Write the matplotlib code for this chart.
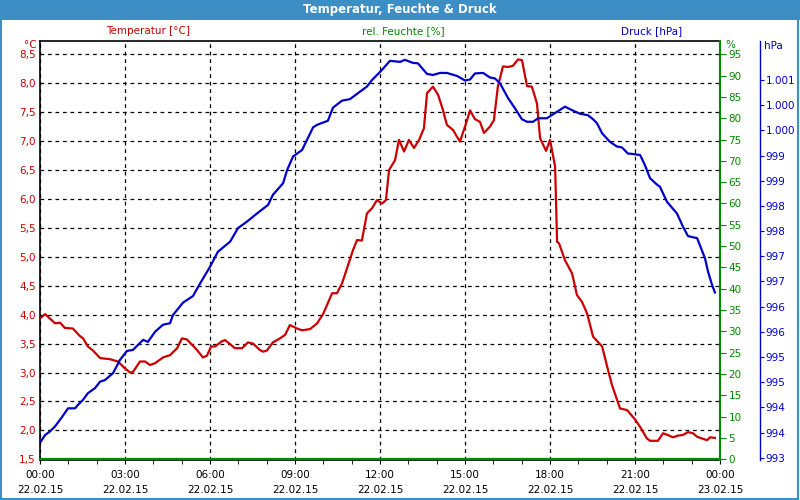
import matplotlib
matplotlib.use('Agg')
import matplotlib.pyplot as plt
from matplotlib.patches import Rectangle
import numpy as np

# time in hours since 22.02.15 00:00
temp_t = [0.04, 0.18, 0.53, 0.71, 0.88, 1.16, 1.41, 1.52, 1.69, 1.87, 2.12, 2.47, 2.75, 3.0, 3.18,
          3.28, 3.53, 3.71, 3.88, 4.06, 4.34, 4.59, 4.84, 5.01, 5.19, 5.54, 5.75, 5.89, 6.04, 6.18,
          6.42, 6.53, 6.71, 6.88, 7.13, 7.34, 7.52, 7.76, 7.87, 8.01, 8.22, 8.47, 8.65, 8.82, 9.07,
          9.25, 9.53, 9.78, 9.99, 10.16, 10.31, 10.48, 10.66, 11.05, 11.19, 11.36, 11.54, 11.72, 11.89,
          12.07, 12.21, 12.32, 12.53, 12.67, 12.85, 13.02, 13.2, 13.38, 13.55, 13.66, 13.87, 14.05,
          14.22, 14.36, 14.58, 14.82, 15.0, 15.18, 15.35, 15.53, 15.67, 15.88, 16.02, 16.16, 16.34,
          16.52, 16.69, 16.87, 17.01, 17.19, 17.36, 17.54, 17.65, 17.86, 18.0, 18.18, 18.25, 18.32,
          18.53, 18.78, 18.95, 19.13, 19.31, 19.52, 19.84, 20.05, 20.19, 20.47, 20.72, 21.0, 21.18,
          21.42, 21.53, 21.81, 21.99, 22.16, 22.34, 22.52, 22.69, 22.87, 23.05, 23.19, 23.54, 23.65, 23.82]
temp_c = [3.95, 4.01, 3.85, 3.86, 3.77, 3.76, 3.63, 3.59, 3.45, 3.38, 3.25, 3.23, 3.19, 3.07, 3.0,
          3.01, 3.19, 3.19, 3.13, 3.16, 3.26, 3.30, 3.42, 3.59, 3.57, 3.39, 3.26, 3.29, 3.45, 3.45,
          3.54, 3.56, 3.49, 3.42, 3.42, 3.52, 3.50, 3.39, 3.36, 3.38, 3.52, 3.59, 3.65, 3.82, 3.76,
          3.73, 3.75, 3.85, 4.01, 4.20, 4.37, 4.37, 4.54, 5.12, 5.29, 5.28, 5.75, 5.84, 5.98,
          5.92, 5.98, 6.50, 6.67, 7.02, 6.82, 7.02, 6.88, 7.02, 7.22, 7.83, 7.94, 7.80,
          7.54, 7.28, 7.19, 6.99, 7.25, 7.53, 7.38, 7.33, 7.14, 7.25, 7.36, 7.94, 8.29,
          8.28, 8.30, 8.41, 8.40, 7.95, 7.94, 7.65, 7.05, 6.83, 7.02, 6.56, 5.26, 5.23,
          4.94, 4.71, 4.34, 4.22, 4.02, 3.62, 3.45, 3.04, 2.78, 2.38, 2.35, 2.19, 2.06,
          1.86, 1.82, 1.82, 1.95, 1.92, 1.88, 1.91, 1.92, 1.97, 1.95, 1.89, 1.83, 1.88, 1.87]

press_t = [0.04, 0.18, 0.35, 0.53, 0.78, 0.99, 1.24, 1.34, 1.52, 1.69, 1.94, 2.12, 2.29, 2.58, 2.82,
           3.07, 3.28, 3.64, 3.81, 4.06, 4.34, 4.59, 4.69, 5.05, 5.4, 5.65, 6.0, 6.28, 6.71, 6.99,
           7.31, 7.66, 8.05, 8.22, 8.58, 8.72, 8.93, 9.25, 9.64, 9.78, 10.16, 10.34, 10.66, 10.94,
           11.54, 11.72, 12.07, 12.35, 12.71, 12.88, 13.16, 13.34, 13.66, 13.87, 14.12, 14.36, 14.72,
           15.0, 15.18, 15.35, 15.64, 15.88, 16.06, 16.24, 16.52, 16.76, 17.01, 17.19, 17.4, 17.58,
           17.89, 18.25, 18.53, 18.78, 19.06, 19.34, 19.52, 19.66, 19.84, 20.12, 20.36, 20.54, 20.75,
           20.93, 21.18, 21.35, 21.53, 21.78, 21.88, 22.13, 22.48, 22.69, 22.87, 23.19, 23.29, 23.47,
           23.58, 23.72, 23.82]
press_hpa = [993.33, 993.45, 993.52, 993.62, 993.81, 993.98, 993.98, 994.05, 994.15, 994.28, 994.38,
             994.51, 994.54, 994.68, 994.94, 995.12, 995.14, 995.34, 995.30, 995.50, 995.64, 995.67,
             995.83, 996.08, 996.21, 996.46, 996.79, 997.09, 997.29, 997.56, 997.69, 997.85, 998.02,
             998.22, 998.45, 998.71, 998.98, 999.11, 999.56, 999.61, 999.69, 999.95, 1000.09, 1000.12,
             1000.37, 1000.50, 1000.70, 1000.88, 1000.86, 1000.90, 1000.84, 1000.83, 1000.62, 1000.60,
             1000.64, 1000.64, 1000.58, 1000.49, 1000.51, 1000.63, 1000.64, 1000.55, 1000.53, 1000.43,
             1000.14, 999.94, 999.72, 999.67, 999.67, 999.74, 999.74, 999.87, 999.97, 999.90, 999.83,
             999.80, 999.72, 999.64, 999.44, 999.27, 999.18, 999.16, 999.04, 999.03, 999.01, 998.81,
             998.55, 998.42, 998.38, 998.08, 997.85, 997.59, 997.40, 997.36, 997.22, 996.96, 996.69,
             996.43, 996.28]

hum_t = [0.0, 24.0]
hum_pct = [0.0, 0.0]

xtick_labels = ['00:00\n22.02.15', '03:00\n22.02.15', '06:00\n22.02.15', '09:00\n22.02.15',
                '12:00\n22.02.15', '15:00\n22.02.15', '18:00\n22.02.15', '21:00\n22.02.15',
                '00:00\n23.02.15']

RED = '#cc0000'
GREEN = '#008800'
BLUE = '#0000cc'
BAR = '#3d8ec5'

plt.rcParams['font.family'] = 'DejaVu Sans'
plt.rcParams['font.size'] = 7.5

fig = plt.figure(figsize=(8, 5), dpi=100)
fig.patch.set_facecolor('white')

# title bar and border
fig.patches.append(Rectangle((0, 1 - 20 / 500), 1, 20 / 500, transform=fig.transFigure,
                             facecolor=BAR, edgecolor='none', zorder=0))
fig.patches.append(Rectangle((0.001, 0.002), 0.997, 0.996, transform=fig.transFigure,
                             facecolor='none', edgecolor=BAR, lw=1.5, zorder=0))
fig.text(0.5, 1 - 10 / 500, 'Temperatur, Feuchte & Druck', color='white', weight='bold',
         fontsize=8.5, ha='center', va='center')

ax = fig.add_axes([40 / 800, 1 - 460 / 500, 680 / 800, 419.5 / 500])
ax2 = ax.twinx()
ax3 = ax.twinx()

# temperature axis
ax.set_xlim(0, 24)
ax.set_ylim(1.488, 8.738)
ax.set_yticks(np.arange(1.5, 8.51, 0.5))
ax.set_yticklabels([f'{v:.1f}'.replace('.', ',') for v in np.arange(1.5, 8.51, 0.5)])
ax.tick_params(axis='y', length=0, pad=3, colors=RED)
ax.set_xticks(np.arange(0, 24.1, 3))
ax.set_xticklabels(xtick_labels, linespacing=1.6)
ax.set_xticks(np.arange(0, 24.1, 1), minor=True)
ax.tick_params(axis='x', which='both', length=3, direction='out', pad=4, colors='black')
ax.grid(True, color='black', linestyle=(0, (3, 3)), linewidth=0.9)
for s in ['left', 'top', 'bottom']:
    ax.spines[s].set_color('black')
    ax.spines[s].set_linewidth(1.2)
ax.spines['right'].set_visible(False)
ax.plot(temp_t, temp_c, color=RED, lw=1.6, zorder=3)

# humidity axis
ax2.set_ylim((1.488 - 1.5) * 95 / 7, (8.738 - 1.5) * 95 / 7)
ax2.set_yticks(np.arange(0, 96, 5))
ax2.tick_params(axis='y', length=4, pad=2, colors=GREEN)
ax2.spines['right'].set_color(GREEN)
ax2.spines['right'].set_linewidth(1.5)
for s in ['left', 'top', 'bottom']:
    ax2.spines[s].set_visible(False)
ax2.plot(hum_t, hum_pct, color=GREEN, lw=1.6, clip_on=False, zorder=4)

# pressure axis
ax3.set_ylim(992.954, 1001.284)
p_ticks = np.arange(993, 1000.51, 0.5)
ax3.set_yticks(p_ticks)
ax3.set_yticklabels([f'{int(np.floor(v + 0.5)):,}'.replace(',', '.') for v in p_ticks])
ax3.spines['right'].set_position(('axes', 720 / 680))
ax3.spines['right'].set_color(BLUE)
ax3.spines['right'].set_linewidth(1)
for s in ['left', 'top', 'bottom']:
    ax3.spines[s].set_visible(False)
ax3.tick_params(axis='y', length=3, pad=1, colors=BLUE)
ax3.plot(press_t, press_hpa, color=BLUE, lw=1.6, zorder=3)

# labels above the plot
fig.text(148 / 800, 1 - 31 / 500, 'Temperatur [°C]', color=RED, ha='center', va='center')
fig.text(403 / 800, 1 - 31 / 500, 'rel. Feuchte [%]', color=GREEN, ha='center', va='center')
fig.text(652 / 800, 1 - 31 / 500, 'Druck [hPa]', color=BLUE, ha='center', va='center')
fig.text(37 / 800, 1 - 45 / 500, '°C', color=RED, ha='right', va='center')
fig.text(725 / 800, 1 - 45 / 500, '%', color=GREEN, ha='left', va='center')
fig.text(764 / 800, 1 - 46 / 500, 'hPa', color=BLUE, ha='left', va='center')

fig.savefig('out.png', dpi=100, facecolor=fig.get_facecolor())
